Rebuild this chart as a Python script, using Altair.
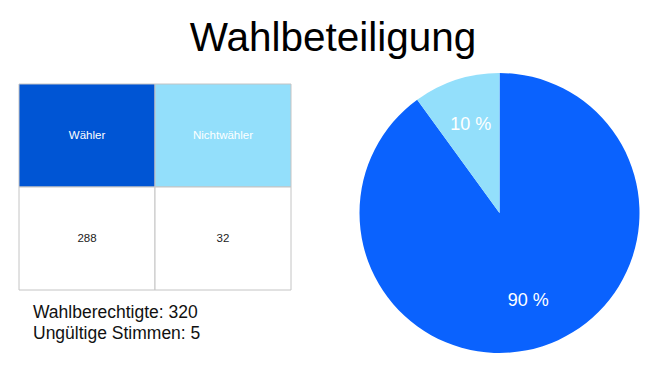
import altair as alt
import pandas as pd

# --- data ---
categories = ["Wähler", "Nichtwähler"]
counts = [288, 32]
eligible = 320
invalid = 5
title_text = "Wahlbeteiligung"
rows = ["Kopf", "Wert"]

# --- styles ---
FONT = "Liberation Sans"
dark_blue = "#0055d4"
pie_blue = "#0a62fe"
light_blue = "#93dffb"

table_df = pd.DataFrame(
    [{"col": c, "row": "Kopf", "label": c, "key": c} for c in categories]
    + [{"col": c, "row": "Wert", "label": str(v), "key": "leer"} for c, v in zip(categories, counts)]
)
pie_df = pd.DataFrame({"cat": categories, "value": counts, "idx": list(range(len(categories)))})
note_df = pd.DataFrame({"txt": [f"Wahlberechtigte: {eligible}\nUngültige Stimmen: {invalid}"]})

xs = alt.X("col:N", scale=alt.Scale(domain=categories, range=[11, 283], paddingInner=0, paddingOuter=0), axis=None)
ys = alt.Y("row:N", scale=alt.Scale(domain=rows, range=[11, 217], paddingInner=0, paddingOuter=0), axis=None)

cells = alt.Chart(table_df).mark_rect(stroke="#c4c4c4", strokeWidth=1).encode(
    x=xs, y=ys,
    fill=alt.Fill("key:N", scale=alt.Scale(domain=categories + ["leer"], range=[dark_blue, light_blue, "#ffffff"]), legend=None),
)
cell_text = alt.Chart(table_df).mark_text(font=FONT, fontSize=11.5).encode(
    x=xs, y=ys, text="label:N",
    color=alt.Color("row:N", scale=alt.Scale(domain=rows, range=["#ffffff", "#222222"]), legend=None),
)

theta = alt.Theta("value:Q", stack=True)
pie = alt.Chart(pie_df).mark_arc(outerRadius=140).encode(
    theta=theta,
    order=alt.Order("idx:O"),
    fill=alt.Fill("cat:N", scale=alt.Scale(domain=categories, range=[pie_blue, light_blue]), legend=None),
    x=alt.value(491.5), y=alt.value(140),
)
pie_labels = alt.Chart(pie_df).transform_joinaggregate(
    total="sum(value)"
).transform_calculate(
    pct="format(datum.value / datum.total * 100, '.0f') + ' %'"
).mark_text(radius=93, font=FONT, fontSize=18, color="white").encode(
    theta=theta,
    order=alt.Order("idx:O"),
    text="pct:N",
    x=alt.value(491.5), y=alt.value(140),
)

note = alt.Chart(note_df).mark_text(
    font=FONT, fontSize=17.5, align="left", baseline="alphabetic", lineBreak="\n", lineHeight=21, color="#111111"
).encode(text="txt:N", x=alt.value(25), y=alt.value(245))

chart = alt.layer(cells, cell_text, pie, pie_labels, note).resolve_scale(
    fill="independent", color="independent"
).properties(
    width=650, height=285,
    autosize=alt.AutoSizeParams(type="none"),
    padding={"top": 65, "left": 0, "right": 0, "bottom": 0},
    title=alt.TitleParams(title_text, font=FONT, fontSize=40.5, fontWeight="normal", color="#000000",
                          anchor="middle", frame="group", baseline="alphabetic", offset=19, dy=37),
).configure_view(stroke=None)

chart.save("out.html", embed_options={"renderer": "svg", "actions": False})
